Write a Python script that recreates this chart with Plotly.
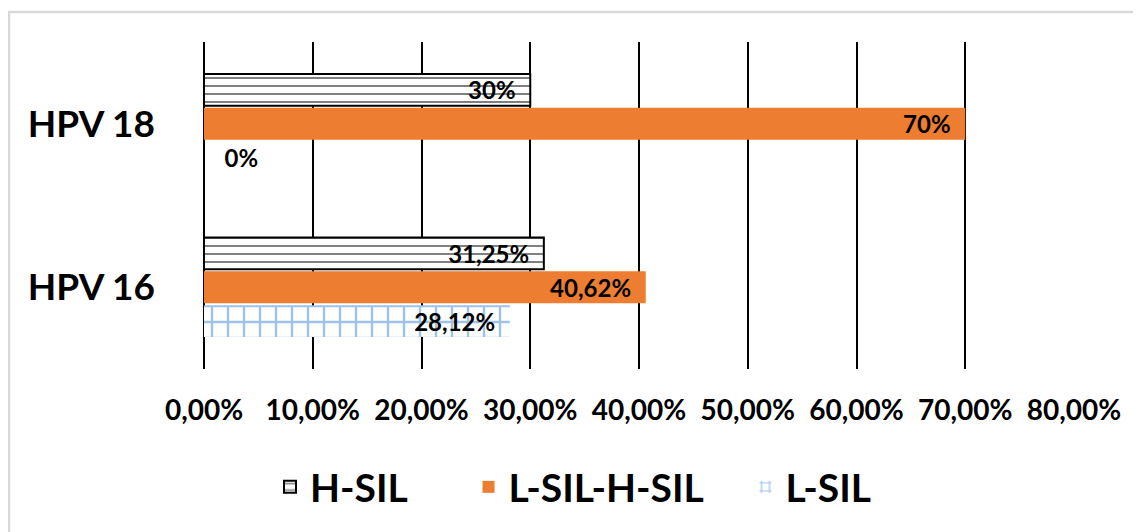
import plotly.graph_objects as go

categories = ["HPV 16", "HPV 18"]
hsil = [31.25, 30.0]
lsil_hsil = [40.62, 70.0]
lsil = [28.12, 0.0]
hsil_labels = ["31,25%", "30%"]
lsil_hsil_labels = ["40,62%", "70%"]
lsil_labels = ["28,12%", "0%"]
tick_vals = [0, 10, 20, 30, 40, 50, 60, 70, 80]
tick_text = ["0,00%", "10,00%", "20,00%", "30,00%", "40,00%", "50,00%", "60,00%", "70,00%", "80,00%"]

FONT = "Lato"
NB = "\u00a0"

# the page body has an 8px default margin; compensate so the screen matches
OFF = 8
W, H = 1141, 532
L, R, T, B = 204 - OFF, 67 + OFF, 42 - OFF, 163 + OFF

def px_x(x):
    return (x - OFF - L) / (W - L - R)

def px_y(y):
    return (H - B - (y - OFF)) / (H - T - B)

def lab(labels, values, pad):
    out = []
    for s, v in zip(labels, values):
        out.append(NB * 3 + s if v == 0 else s + NB * pad)
    return out

fig = go.Figure()
fig.add_trace(go.Bar(
    y=categories, x=lsil, orientation="h", name="L-SIL",
    text=lab(lsil_labels, lsil, 2),
    textposition=["inside" if v > 0 else "outside" for v in lsil],
    insidetextanchor="end",
    textfont=dict(family=FONT, size=24, color="#000000", weight="bold"),
    marker=dict(color="white", line=dict(width=0),
                pattern=dict(shape="+", fgcolor="#3F86D0", bgcolor="white",
                             size=16, solidity=0.28)),
    legendrank=3, cliponaxis=False,
))
fig.add_trace(go.Bar(
    y=categories, x=lsil_hsil, orientation="h", name="L-SIL-H-SIL" + NB * 4,
    text=lab(lsil_hsil_labels, lsil_hsil, 2),
    textposition="inside", insidetextanchor="end",
    textfont=dict(family=FONT, size=24, color="#000000", weight="bold"),
    marker=dict(color="#ED7D31", line=dict(width=0)),
    legendrank=2,
))
fig.add_trace(go.Bar(
    y=categories, x=hsil, orientation="h", name="H-SIL" + NB * 6,
    text=lab(hsil_labels, hsil, 2),
    textposition="inside", insidetextanchor="end",
    textfont=dict(family=FONT, size=24, color="#000000", weight="bold"),
    marker=dict(color="white", line=dict(width=2, color="#000000"),
                pattern=dict(shape="-", fgcolor="#000000", bgcolor="white",
                             size=8, solidity=0.25)),
    legendrank=1,
))

fig.update_layout(
    width=W, height=H,
    margin=dict(l=L, r=R, t=T, b=B, pad=0, autoexpand=False),
    paper_bgcolor="white", plot_bgcolor="white",
    barmode="group", bargap=0.38, bargroupgap=0.06,
    uniformtext=dict(minsize=24, mode="show"),
    font=dict(family=FONT, color="#000000"),
    xaxis=dict(range=[0, 80], tickvals=tick_vals, ticktext=tick_text,
               showgrid=True, gridcolor="#000000", gridwidth=2,
               zeroline=True, zerolinecolor="#000000", zerolinewidth=2,
               showline=False, ticks="", ticklabelstandoff=22, automargin=False,
               tickfont=dict(family=FONT, size=28, color="#000000", weight="bold"),
               fixedrange=True),
    yaxis=dict(range=[-0.5, 1.5], showgrid=False, zeroline=False, showline=False,
               ticks="", ticklabelstandoff=48, automargin=False,
               tickfont=dict(family=FONT, size=37, color="#000000", weight="bold"),
               fixedrange=True),
    legend=dict(orientation="h", xref="container", yref="container",
                x=(270 - OFF) / W, xanchor="left",
                y=1 - (487 - OFF) / H, yanchor="middle",
                font=dict(family=FONT, size=39, color="#000000", weight="bold"),
                itemwidth=30, bgcolor="rgba(0,0,0,0)"),
    showlegend=True,
    shapes=[dict(type="rect", xref="paper", yref="paper",
                 x0=px_x(9), x1=px_x(1170), y0=px_y(12), y1=px_y(570),
                 line=dict(color="#D9D9D9", width=2.5), fillcolor="rgba(0,0,0,0)",
                 layer="below")],
)

fig.write_html("out.html")
